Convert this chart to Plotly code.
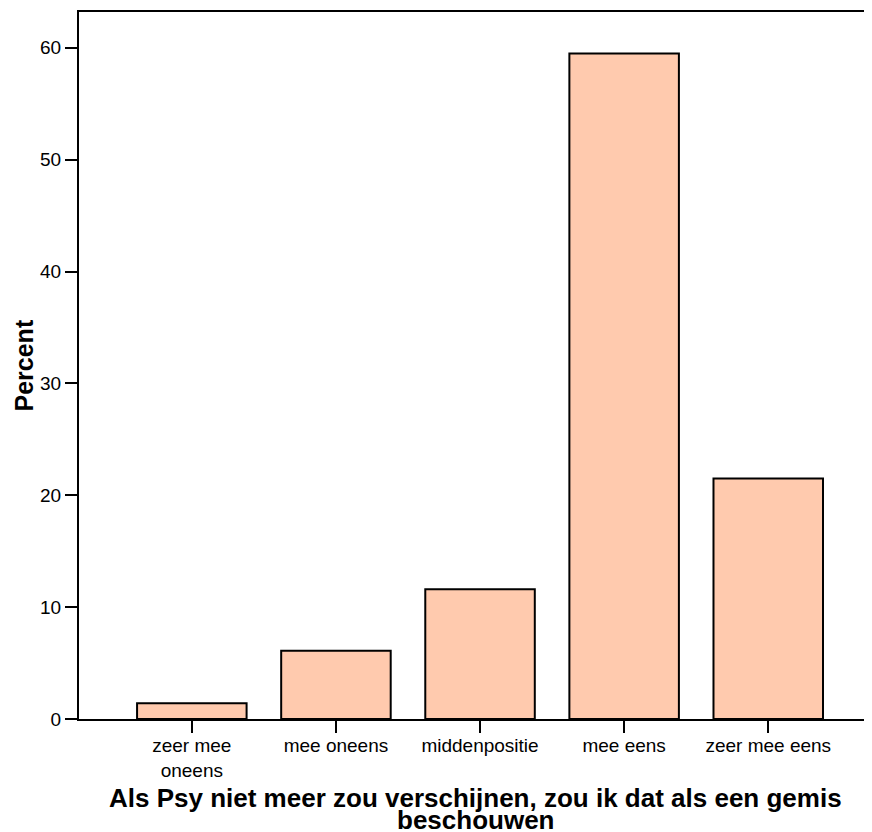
import plotly.graph_objects as go

categories = ["zeer mee<br>oneens", "mee oneens", "middenpositie", "mee eens", "zeer mee eens"]
percent = [1.4, 6.1, 11.6, 59.5, 21.5]
y_ticks = [0, 10, 20, 30, 40, 50, 60]
x_title_lines = ["Als Psy niet meer zou verschijnen, zou ik dat als een gemis", "beschouwen"]
y_title = "Percent"

FONT = "Liberation Sans, Arial, sans-serif"

fig = go.Figure(
    go.Bar(
        x=list(range(len(categories))),
        y=percent,
        marker=dict(color="#FFCAAE", line=dict(color="black", width=2)),
        width=0.76,
    )
)

# page body has an 8px default margin, so the figure is 8px smaller
fig.update_layout(
    width=864,
    height=824,
    margin=dict(l=71, r=0, t=4, b=113),
    paper_bgcolor="white",
    plot_bgcolor="white",
    showlegend=False,
    font=dict(family=FONT, color="black", size=19),
)

fig.update_xaxes(
    range=[-0.783, 4.72],
    tickmode="array",
    tickvals=list(range(len(categories))),
    ticktext=categories,
    ticks="outside",
    ticklen=12,
    tickwidth=2,
    tickcolor="black",
    ticklabelstandoff=-4,
    showline=True,
    linecolor="black",
    linewidth=2,
    mirror=True,
    showgrid=False,
    zeroline=False,
    tickfont=dict(family=FONT, size=19, color="black"),
)
fig.update_yaxes(
    range=[0, 63.2],
    tickmode="array",
    tickvals=y_ticks,
    ticks="outside",
    ticklen=12,
    tickwidth=2,
    tickcolor="black",
    showline=True,
    linecolor="black",
    linewidth=2,
    mirror=False,
    showgrid=False,
    zeroline=False,
    tickfont=dict(family=FONT, size=19, color="black"),
)

fig.add_annotation(
    text="<b>" + x_title_lines[0] + "</b>", xref="paper", yref="paper", x=0.5, y=0,
    yanchor="middle", yshift=-79, showarrow=False, font=dict(family=FONT, size=26, color="black"),
)
fig.add_annotation(
    text="<b>" + x_title_lines[1] + "</b>", xref="paper", yref="paper", x=0.5, y=0,
    yanchor="middle", yshift=-101, showarrow=False, font=dict(family=FONT, size=26, color="black"),
)
fig.add_annotation(
    text="<b>" + y_title + "</b>", xref="paper", yref="paper", x=0, y=0.5,
    xanchor="center", xshift=-56, textangle=-90, showarrow=False,
    font=dict(family=FONT, size=25, color="black"),
)

fig.write_html("out.html")
